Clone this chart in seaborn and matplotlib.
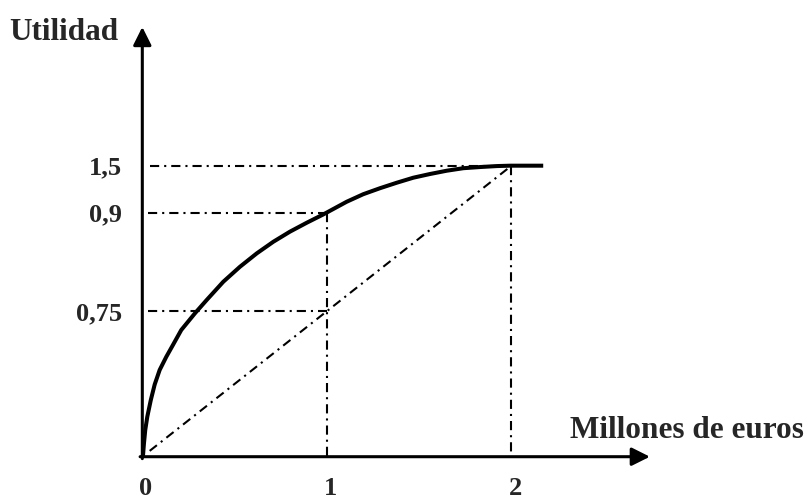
import matplotlib
matplotlib.use('Agg')
import matplotlib.pyplot as plt
import numpy as np
import pandas as pd
import seaborn as sns

# utility curve (y in drawing units, 0,9 is schematic)
curve_x = [0.0, 0.004, 0.009, 0.016, 0.027, 0.046, 0.067, 0.094, 0.130,
           0.166, 0.211, 0.285, 0.349, 0.439, 0.529, 0.620, 0.710, 0.800,
           0.891, 0.981, 1.107, 1.197, 1.288, 1.378, 1.468, 1.558, 1.649,
           1.739, 1.829, 1.920, 1.992, 2.172]
curve_y = [0.0, 0.009, 0.069, 0.138, 0.206, 0.292, 0.372, 0.447, 0.515,
           0.576, 0.653, 0.739, 0.808, 0.902, 0.979, 1.048, 1.108, 1.160,
           1.206, 1.249, 1.314, 1.353, 1.384, 1.412, 1.438, 1.457, 1.474,
           1.487, 1.493, 1.498, 1.500, 1.500]

x_ticks = [0, 1, 2]
x_labels = ['0', '1', '2']
y_ticks = [0.75, 1.258, 1.5]
y_labels = ['0,75', '0,9', '1,5']

x_title = 'Millones de euros'
y_title = 'Utilidad'

sns.set_style('white')
plt.rcParams['font.family'] = ['Liberation Serif', 'DejaVu Serif']

fig = plt.figure(figsize=(8.09, 4.99), dpi=100)
ax = fig.add_axes([0, 0, 1, 1])
ax.set_xlim(-0.771, 3.612)
ax.set_ylim(-0.218, 2.354)
ax.axis('off')

df = pd.DataFrame({'x': curve_x, 'y': curve_y})
sns.lineplot(x='x', y='y', data=df, ax=ax, color='black', lw=2.9,
             sort=False, estimator=None, solid_capstyle='butt',
             solid_joinstyle='round', zorder=4)

dd = dict(color='black', lw=1.5, dashes=(4.4, 2.4, 1.0, 2.4), zorder=2)

# guide lines
ax.plot([0.04, x_ticks[2]], [y_ticks[2], y_ticks[2]], **dd)
ax.plot([0.03, x_ticks[1]], [y_ticks[1], y_ticks[1]], **dd)
ax.plot([0.03, x_ticks[1]], [y_ticks[0], y_ticks[0]], **dd)
ax.plot([x_ticks[1], x_ticks[1]], [y_ticks[1], 0], **dd)
ax.plot([x_ticks[2], x_ticks[2]], [y_ticks[2], 0], **dd)
ax.plot([0.04, x_ticks[2]], [0.03, y_ticks[2]], **dd)

# axes with arrows
arr = dict(arrowstyle='-|>,head_length=1.0,head_width=0.5', mutation_scale=11,
           lw=2.2, color='black', shrinkA=0, shrinkB=0)
ax.annotate('', xy=(2.75, 0), xytext=(-0.012, 0), arrowprops=arr, zorder=5)
ax.annotate('', xy=(0, 2.215), xytext=(0, -0.01), arrowprops=arr, zorder=5)

fs = 19
for xv, lab in zip(x_ticks, x_labels):
    ax.text(xv + 0.02, -0.195, lab, ha='center', va='baseline',
            fontsize=fs, fontweight='bold')
for yv, lab in zip(y_ticks, y_labels):
    ax.text(-0.11, yv - 0.045, lab, ha='right', va='baseline',
            fontsize=fs, fontweight='bold')

ax.text(-0.132, 2.148, y_title, ha='right', va='baseline',
        fontsize=22.5, fontweight='bold')
ax.text(2.317, 0.096, x_title, ha='left', va='baseline',
        fontsize=22.5, fontweight='bold')

plt.savefig('out.png', dpi=100)
plt.close()
